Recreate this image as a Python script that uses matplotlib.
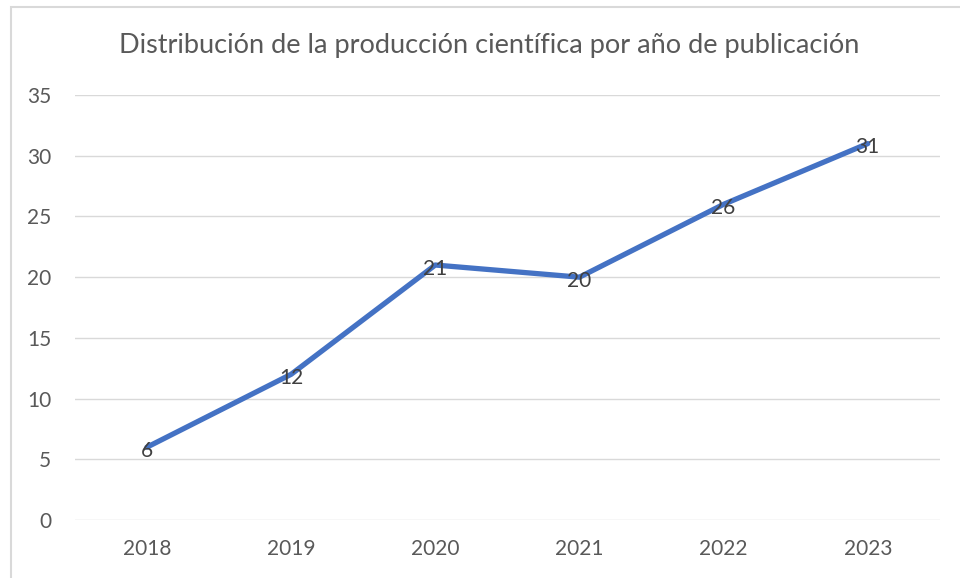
import matplotlib.pyplot as plt
from matplotlib.patches import Rectangle

years = ["2018", "2019", "2020", "2021", "2022", "2023"]
counts = [6, 12, 21, 20, 26, 31]
yticks = [0, 5, 10, 15, 20, 25, 30, 35]

plt.rcParams['font.family'] = ['Lato', 'DejaVu Sans']

fig = plt.figure(figsize=(9.6, 5.78), dpi=100)
ax = fig.add_axes([0.078, 0.1003, 0.901, 0.7353])

# outer chart frame
fig.patches.append(Rectangle((11 / 960, -0.01), 1.0, 1 - 7 / 578 + 0.01,
                             transform=fig.transFigure, fill=False,
                             edgecolor="#d9d9d9", linewidth=1.5))

x = list(range(len(years)))
ax.plot(x, counts, color="#4472C4", linewidth=3.8, solid_capstyle="round", zorder=3)
for xi, v in zip(x, counts):
    ax.text(xi, v - 0.3, str(v), ha="center", va="center", fontsize=15, color="#404040", zorder=4)

ax.set_xlim(-0.5, len(years) - 0.5)
ax.set_ylim(0, 35)
ax.set_yticks(yticks)
ax.set_xticks(x)
ax.set_xticklabels(years)
ax.tick_params(length=0, labelsize=15, colors="#595959")
ax.tick_params(axis="y", pad=17)
ax.tick_params(axis="x", pad=14)
ax.grid(axis="y", color="#d9d9d9", linewidth=1)
ax.set_axisbelow(True)
for s in ax.spines.values():
    s.set_visible(False)

fig.text(0.510, 0.922, "Distribución de la producción científica por año de publicación",
         ha="center", va="center", fontsize=19.5, color="#595959")

fig.savefig("out.png", dpi=100)
